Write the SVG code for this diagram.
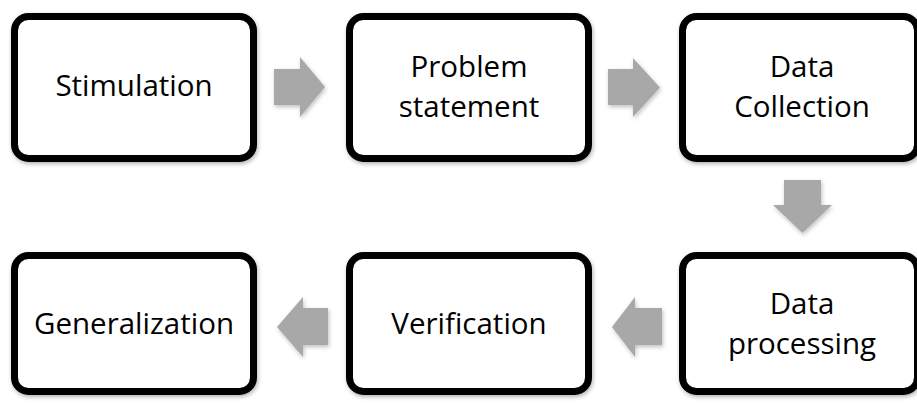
<svg xmlns="http://www.w3.org/2000/svg" width="917" height="403" viewBox="0 0 917 403">
  <defs>
    <filter id="sh" x="-10%" y="-10%" width="130%" height="130%">
      <feDropShadow dx="1" dy="2" stdDeviation="2" flood-color="#000" flood-opacity="0.3"/>
    </filter>
    <filter id="ash" x="-20%" y="-20%" width="150%" height="150%">
      <feDropShadow dx="1" dy="2" stdDeviation="2" flood-color="#000" flood-opacity="0.25"/>
    </filter>
  </defs>
  <style>
    .box { fill: #ffffff; stroke: #000000; stroke-width: 7; filter: url(#sh); }
    .lbl { font-family: "Open Sans", "Liberation Sans", sans-serif; font-size: 29.5px; fill: #000000; text-anchor: middle; }
    .arr { fill: #A8A8A8; stroke: none; filter: url(#ash); }
  </style>
  <rect x="0" y="0" width="917" height="403" fill="#ffffff"/>
  <g id="connectors">
    <path class="arr" d="M274,69 H300 V57 L325,87 L300,117 V105 H274 Z"/>
    <path class="arr" d="M608,69 H633 V58 L660,87.5 L633,117 V105 H608 Z"/>
    <path class="arr" d="M784,180 H821 V205 H832 L802.5,233 L773,205 H784 Z"/>
    <path class="arr" d="M662,308 H635 V297 L612,327 L635,357 V345 H662 Z"/>
    <path class="arr" d="M328,308 H303 V297 L277,327 L303,357 V345 H328 Z"/>
  </g>
  <g id="stimulation">
    <rect class="box" x="14.5" y="16.5" width="239" height="142" rx="14"/>
    <text class="lbl" x="134" y="96">Stimulation</text>
  </g>
  <g id="problem-statement">
    <rect class="box" x="349.5" y="16.5" width="239" height="142" rx="14"/>
    <text class="lbl" x="469" y="77">Problem</text>
    <text class="lbl" x="469" y="117">statement</text>
  </g>
  <g id="data-collection">
    <rect class="box" x="682.5" y="16.5" width="235" height="142" rx="14"/>
    <text class="lbl" x="802" y="77">Data</text>
    <text class="lbl" x="802" y="117">Collection</text>
  </g>
  <g id="data-processing">
    <rect class="box" x="682.5" y="255.5" width="235" height="136" rx="14"/>
    <text class="lbl" x="802" y="314">Data</text>
    <text class="lbl" x="802" y="354">processing</text>
  </g>
  <g id="verification">
    <rect class="box" x="349.5" y="255.5" width="239" height="136" rx="14"/>
    <text class="lbl" x="469" y="334">Verification</text>
  </g>
  <g id="generalization">
    <rect class="box" x="14.5" y="255.5" width="239" height="136" rx="14"/>
    <text class="lbl" x="134" y="334">Generalization</text>
  </g>
</svg>
